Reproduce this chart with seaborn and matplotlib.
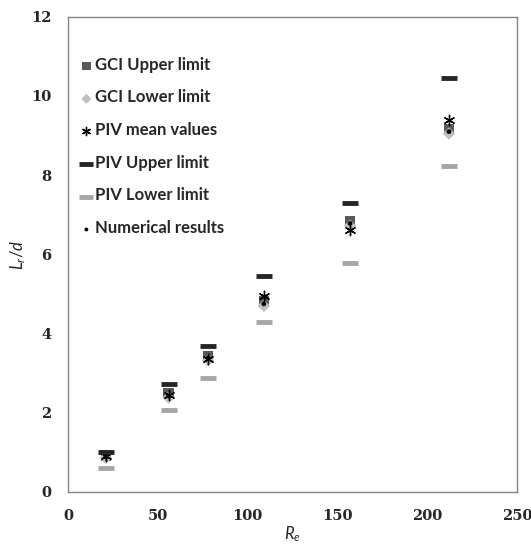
import matplotlib
matplotlib.use("Agg")
import matplotlib.pyplot as plt
import seaborn as sns
import pandas as pd

re_vals = [21, 56, 78, 109, 157, 212]
gci_upper = [0.92, 2.50, 3.42, 4.82, 6.85, 9.15]
gci_lower = [0.86, 2.38, 3.32, 4.70, 6.72, 9.05]
piv_mean = [0.90, 2.45, 3.36, 4.95, 6.62, 9.40]
piv_upper = [1.02, 2.72, 3.68, 5.45, 7.30, 10.45]
piv_lower = [0.60, 2.07, 2.87, 4.30, 5.78, 8.23]
numerical = [0.88, 2.42, 3.38, 4.75, 6.78, 9.10]

df = pd.DataFrame({"Re": re_vals, "GCI Upper limit": gci_upper,
                   "GCI Lower limit": gci_lower, "PIV mean values": piv_mean,
                   "PIV Upper limit": piv_upper, "PIV Lower limit": piv_lower,
                   "Numerical results": numerical})

sns.set_style("white")
plt.rcParams["mathtext.fontset"] = "custom"
plt.rcParams["mathtext.it"] = "Lato:italic"
plt.rcParams["mathtext.rm"] = "Lato"
fig = plt.figure(figsize=(5.31, 5.59), dpi=100)
ax = fig.add_axes([0.128, 0.12, 0.846, 0.85])

styles = {
    "GCI Upper limit": dict(marker="s", color="#595959", s=55),
    "GCI Lower limit": dict(marker="D", color="#bfbfbf", s=40),
    "PIV mean values": dict(marker=(6, 2, 0), color="black", s=55, linewidth=1),
    "PIV Upper limit": dict(marker="_", color="#262626", s=140, linewidth=3.5),
    "PIV Lower limit": dict(marker="_", color="#a6a6a6", s=140, linewidth=3.5),
    "Numerical results": dict(marker="o", color="black", s=12),
}
for name, st in styles.items():
    sns.scatterplot(data=df, x="Re", y=name, ax=ax, label=name,
                    edgecolor=st["color"] if st["marker"] in ["_", (6, 2, 0)] else "none",
                    **st)

ax.set_xlim(0, 250)
ax.set_ylim(0, 12)
ax.set_xticks(range(0, 251, 50))
ax.set_yticks(range(0, 13, 2))
for sp in ax.spines.values():
    sp.set_color("#868686")
    sp.set_linewidth(1)
ax.tick_params(axis="both", direction="out", length=5, color="#868686", pad=7)
for lab in ax.get_xticklabels() + ax.get_yticklabels():
    lab.set_family("DejaVu Serif")
    lab.set_fontweight("bold")
    lab.set_fontsize(10.5)
ax.set_xlabel("$R_e$", fontsize=12, labelpad=1)
ax.set_ylabel("$L_r/d$", fontsize=12, labelpad=2)

leg = ax.legend(loc="upper left", frameon=False, bbox_to_anchor=(-0.01, 0.945),
                handletextpad=0.0, labelspacing=1.2, markerscale=0.8,
                handlelength=1.3, borderaxespad=0.6)
for t in leg.get_texts():
    t.set_family("Lato")
    t.set_fontweight("bold")
    t.set_fontsize(12)

fig.savefig("out.png", dpi=100)
